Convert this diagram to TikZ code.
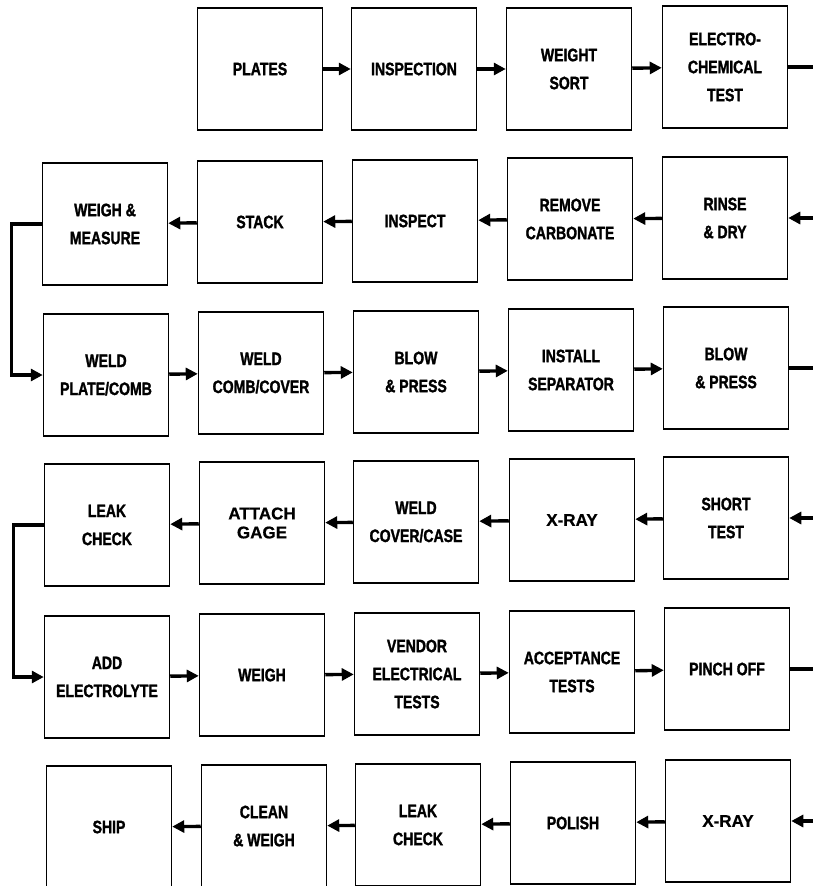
\documentclass[tikz,border=0pt]{standalone}
\usepackage{fontspec}
\setmainfont{Liberation Sans}
\newfontfamily\boxfont{Liberation Sans}[FakeStretch=0.78,FakeBold=1.5]
\newfontfamily\widefont{Liberation Sans}[FakeBold=0.6]
\usetikzlibrary{arrows.meta}
\begin{document}
\begin{tikzpicture}[x=1pt,y=-1pt,
  stepbox/.style={draw,line width=1.5pt,minimum width=125pt,minimum height=122pt,
    inner sep=0pt,align=center,font=\boxfont\bfseries\fontsize{18}{28}\selectfont},
  widebox/.style={stepbox,font=\widefont\bfseries\fontsize{17}{19}\selectfont},
  xbox/.style={stepbox,font=\widefont\bfseries\fontsize{17}{22}\selectfont},
  arr/.style={line width=3.4pt,-{Triangle[length=12pt,width=12pt]}},
  ln/.style={line width=3.4pt}]
\useasboundingbox (0,0) rectangle (813,886);
% row 1
\node[stepbox] (plates) at (260,69) {PLATES};
\node[stepbox] (insp1) at (414,69) {INSPECTION};
\node[stepbox] (wsort) at (569,69) {WEIGHT\\SORT};
\node[stepbox] (echem) at (725,67) {ELECTRO-\\CHEMICAL\\TEST};
\coordinate (r1) at (813,67);
% row 2
\node[stepbox] (rinse) at (725,218) {RINSE\\\& DRY};
\node[stepbox] (remc) at (570,219) {REMOVE\\CARBONATE};
\node[stepbox] (insp2) at (415,221) {INSPECT};
\node[stepbox] (stack) at (260,222) {STACK};
\node[stepbox] (wm) at (105,224) {WEIGH \&\\MEASURE};
\coordinate (r2) at (813,218);
% row 3
\node[stepbox] (wpc) at (106,375) {WELD\\PLATE/COMB};
\node[stepbox] (wcc) at (261,373) {WELD\\COMB/COVER};
\node[stepbox] (bp1) at (416,372) {BLOW\\\& PRESS};
\node[stepbox] (isep) at (571,370) {INSTALL\\SEPARATOR};
\node[stepbox] (bp2) at (726,368) {BLOW\\\& PRESS};
\coordinate (r3) at (813,368);
% row 4
\node[stepbox] (short) at (726,518) {SHORT\\TEST};
\node[xbox] (xray1) at (572,520) {X-RAY};
\node[stepbox] (wcase) at (416,522) {WELD\\COVER/CASE};
\node[widebox] (gage) at (262,523) {ATTACH\\GAGE};
\node[stepbox] (leak1) at (107,525) {LEAK\\CHECK};
\coordinate (r4) at (813,518);
% row 5
\node[stepbox] (addel) at (107,677) {ADD\\ELECTROLYTE};
\node[stepbox] (weigh) at (262,675) {WEIGH};
\node[stepbox] (vend) at (417,674) {VENDOR\\ELECTRICAL\\TESTS};
\node[stepbox] (acc) at (572,672) {ACCEPTANCE\\TESTS};
\node[stepbox] (pinch) at (727,669) {PINCH OFF};
\coordinate (r5) at (813,669);
% row 6
\node[xbox] (xray2) at (728,821) {X-RAY};
\node[stepbox] (polish) at (573,823) {POLISH};
\node[stepbox] (leak2) at (418,825) {LEAK\\CHECK};
\node[stepbox] (clean) at (264,826) {CLEAN\\\& WEIGH};
\node[stepbox] (ship) at (109,827) {SHIP};
\coordinate (r6) at (813,821);
% connectors row 1
\draw[arr] (plates) -- (insp1);
\draw[arr] (insp1) -- (wsort);
\draw[arr] (wsort) -- (echem);
\draw[ln] (echem.east) -- (r1);
% row 2
\draw[arr] (r2) -- (rinse.east);
\draw[arr] (rinse) -- (remc);
\draw[arr] (remc) -- (insp2);
\draw[arr] (insp2) -- (stack);
\draw[arr] (stack) -- (wm);
\draw[arr] (wm.west) -- ++(-30,0) |- (wpc.west);
% row 3
\draw[arr] (wpc) -- (wcc);
\draw[arr] (wcc) -- (bp1);
\draw[arr] (bp1) -- (isep);
\draw[arr] (isep) -- (bp2);
\draw[ln] (bp2.east) -- (r3);
% row 4
\draw[arr] (r4) -- (short.east);
\draw[arr] (short) -- (xray1);
\draw[arr] (xray1) -- (wcase);
\draw[arr] (wcase) -- (gage);
\draw[arr] (gage) -- (leak1);
\draw[arr] (leak1.west) -- ++(-30,0) |- (addel.west);
% row 5
\draw[arr] (addel) -- (weigh);
\draw[arr] (weigh) -- (vend);
\draw[arr] (vend) -- (acc);
\draw[arr] (acc) -- (pinch);
\draw[ln] (pinch.east) -- (r5);
% row 6
\draw[arr] (r6) -- (xray2.east);
\draw[arr] (xray2) -- (polish);
\draw[arr] (polish) -- (leak2);
\draw[arr] (leak2) -- (clean);
\draw[arr] (clean) -- (ship);
\end{tikzpicture}
\end{document}
